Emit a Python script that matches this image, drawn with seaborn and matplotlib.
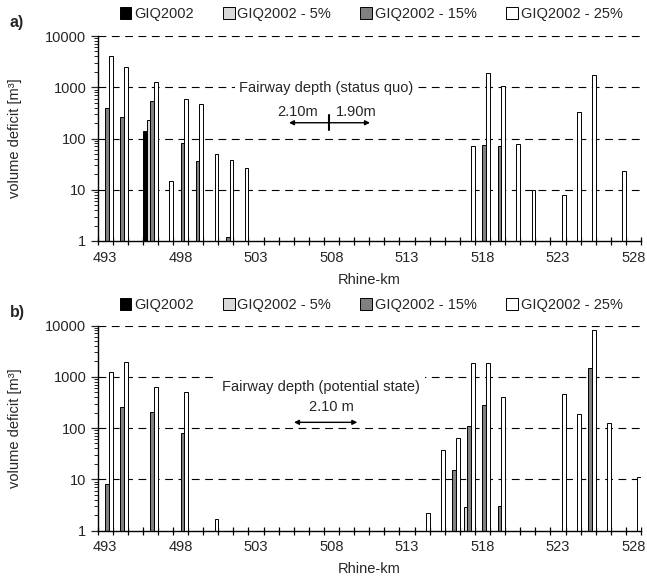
import numpy as np
import pandas as pd
import matplotlib
matplotlib.use("Agg")
import matplotlib.pyplot as plt
import seaborn as sns
from matplotlib.patches import Patch
from matplotlib.ticker import FixedLocator, NullFormatter, LogLocator, FixedFormatter

sns.set_style("ticks")
plt.rcParams["font.family"] = ["Liberation Sans", "DejaVu Sans"]
plt.rcParams["font.size"] = 10

# ---------------- data ----------------
kms = list(range(493, 529))
series = ["GIQ2002", "GIQ2002 - 5%", "GIQ2002 - 15%", "GIQ2002 - 25%"]
colors = ["#000000", "#d9d9d9", "#808080", "#ffffff"]
xtick_labels = ["493", "498", "503", "508", "513", "518", "523", "528"]
ytick_labels = ["1", "10", "100", "1000", "10000"]

# panel a) status quo
a_base_km = [496]
a_base_val = [139]
a_5_km = [496]
a_5_val = [228]
a_15_km = [493, 494, 496, 498, 499, 501, 518, 519]
a_15_val = [385, 257, 536, 82, 37, 1.18, 75, 73]
a_25_km = [493, 494, 496, 497, 498, 499, 500, 501, 502, 517, 518, 519, 520, 521, 523, 524, 525, 527]
a_25_val = [4060, 2440, 1280, 14.7, 577, 468, 50, 38, 26.6, 73, 1860, 1050, 79, 9.8, 8.0, 325, 1770, 22.8]

# panel b) potential state
b_base_km = []
b_base_val = []
b_5_km = [517]
b_5_val = [2.85]
b_15_km = [493, 494, 496, 498, 516, 517, 518, 519, 525]
b_15_val = [8.2, 252, 207, 81.5, 15.2, 111, 282, 2.95, 1493]
b_25_km = [493, 494, 496, 498, 500, 514, 515, 516, 517, 518, 519, 523, 524, 525, 526, 528]
b_25_val = [1217, 1910, 620, 494, 1.69, 2.2, 37.4, 64, 1820, 1880, 405, 464, 189, 7990, 126, 11]


def make_df(groups):
    rows = []
    for name, (k, v) in zip(series, groups):
        for kk, vv in zip(k, v):
            rows.append({"km": kk, "series": name, "value": vv})
    return pd.DataFrame(rows, columns=["km", "series", "value"])


df_a = make_df([(a_base_km, a_base_val), (a_5_km, a_5_val),
                (a_15_km, a_15_val), (a_25_km, a_25_val)])
df_b = make_df([(b_base_km, b_base_val), (b_5_km, b_5_val),
                (b_15_km, b_15_val), (b_25_km, b_25_val)])

palette = dict(zip(series, colors))

W, H = 647, 579
fig = plt.figure(figsize=(W / 100, H / 100), dpi=100)
left, right = 97.5, 641.0
axA = fig.add_axes([left / W, 1 - 241 / H, (right - left) / W, 205 / H])
axB = fig.add_axes([left / W, 1 - 530.5 / H, (right - left) / W, 205 / H])


def px2k(px):
    return (px - left) / ((right - left) / len(kms)) - 0.5


def style_axis(ax, df):
    sns.barplot(data=df, x="km", y="value", hue="series", order=kms,
                hue_order=series, palette=palette, width=1.0, saturation=1,
                edgecolor="black", linewidth=0.7, errorbar=None,
                legend=False, ax=ax, zorder=2)
    ax.set_yscale("log")
    ax.set_xlim(-0.5, len(kms) - 0.5)
    ax.set_ylim(1, 10000)
    for v in [10, 100, 1000, 10000]:
        ax.axhline(v, color="black", lw=0.8, ls=(0, (7, 5)), zorder=0.5)
    for s in ["top", "right"]:
        ax.spines[s].set_visible(False)
    for s in ["left", "bottom"]:
        ax.spines[s].set_color("black")
        ax.spines[s].set_linewidth(1.0)
        ax.spines[s].set_zorder(3)
    ax.xaxis.set_major_locator(FixedLocator(list(range(0, len(kms), 5))))
    ax.xaxis.set_major_formatter(FixedFormatter(xtick_labels))
    ax.xaxis.set_minor_locator(FixedLocator(np.arange(-0.5, len(kms), 1.0)))
    ax.tick_params(axis="x", which="major", length=0, pad=7, labelsize=10.5)
    ax.tick_params(axis="x", which="minor", direction="inout", length=6,
                   width=0.9, color="black")
    ax.yaxis.set_major_locator(FixedLocator([1, 10, 100, 1000, 10000]))
    ax.yaxis.set_major_formatter(FixedFormatter(ytick_labels))
    ax.yaxis.set_minor_locator(LogLocator(base=10, subs=np.arange(2, 10)))
    ax.yaxis.set_minor_formatter(NullFormatter())
    ax.tick_params(axis="y", which="major", direction="out", length=5,
                   width=0.9, labelsize=10.5, pad=3)
    ax.tick_params(axis="y", which="minor", direction="out", length=3, width=0.7)
    ax.set_xlabel("Rhine-km", fontsize=10.5)
    ax.xaxis.set_label_coords(0.5, -0.155)
    ax.set_ylabel("volume deficit [m³]", fontsize=10.5)
    ax.yaxis.set_label_coords(-0.139, 0.5)


style_axis(axA, df_a)
style_axis(axB, df_b)

# annotations panel a
axA.text(px2k(239), 955, "Fairway depth (status quo)", ha="left", va="center",
         fontsize=10.5, zorder=3, bbox=dict(fc="white", ec="none", pad=3))
axA.text(px2k(277), 333, "2.10m", ha="left", va="center", fontsize=10.5)
axA.text(px2k(336), 333, "1.90m", ha="left", va="center", fontsize=10.5)
axA.plot([px2k(329.3)] * 2, [146, 290], color="black", lw=1.5)
axA.annotate("", xy=(px2k(370), 203), xytext=(px2k(289), 203),
             arrowprops=dict(arrowstyle="<|-|>", color="black", lw=1.0,
                             mutation_scale=7, shrinkA=0, shrinkB=0))

# annotations panel b
axB.text(px2k(222), 621, "Fairway depth (potential state)", ha="left",
         va="center", fontsize=10.5, zorder=3,
         bbox=dict(fc="white", ec="none", pad=4))
axB.text(px2k(331.7), 253, "2.10 m", ha="center", va="center", fontsize=10.5)
axB.annotate("", xy=(px2k(357.3), 129), xytext=(px2k(294), 129),
             arrowprops=dict(arrowstyle="<|-|>", color="black", lw=1.0,
                             mutation_scale=7, shrinkA=0, shrinkB=0))

# legends
handles = [Patch(facecolor=c, edgecolor="black", lw=0.7) for c in colors]
for ycen in [14, 305]:
    fig.legend(handles, series, loc="center",
               bbox_to_anchor=(371 / W, 1 - ycen / H), ncol=4, frameon=False,
               handlelength=0.8, handleheight=0.8, handletextpad=0.2,
               columnspacing=2.0, fontsize=10.5, borderaxespad=0,
               borderpad=0)

fig.text(10 / W, 1 - 22 / H, "a)", fontweight="bold", fontsize=11.5, va="center")
fig.text(10 / W, 1 - 313 / H, "b)", fontweight="bold", fontsize=11.5, va="center")

fig.savefig("out.png", dpi=100)
